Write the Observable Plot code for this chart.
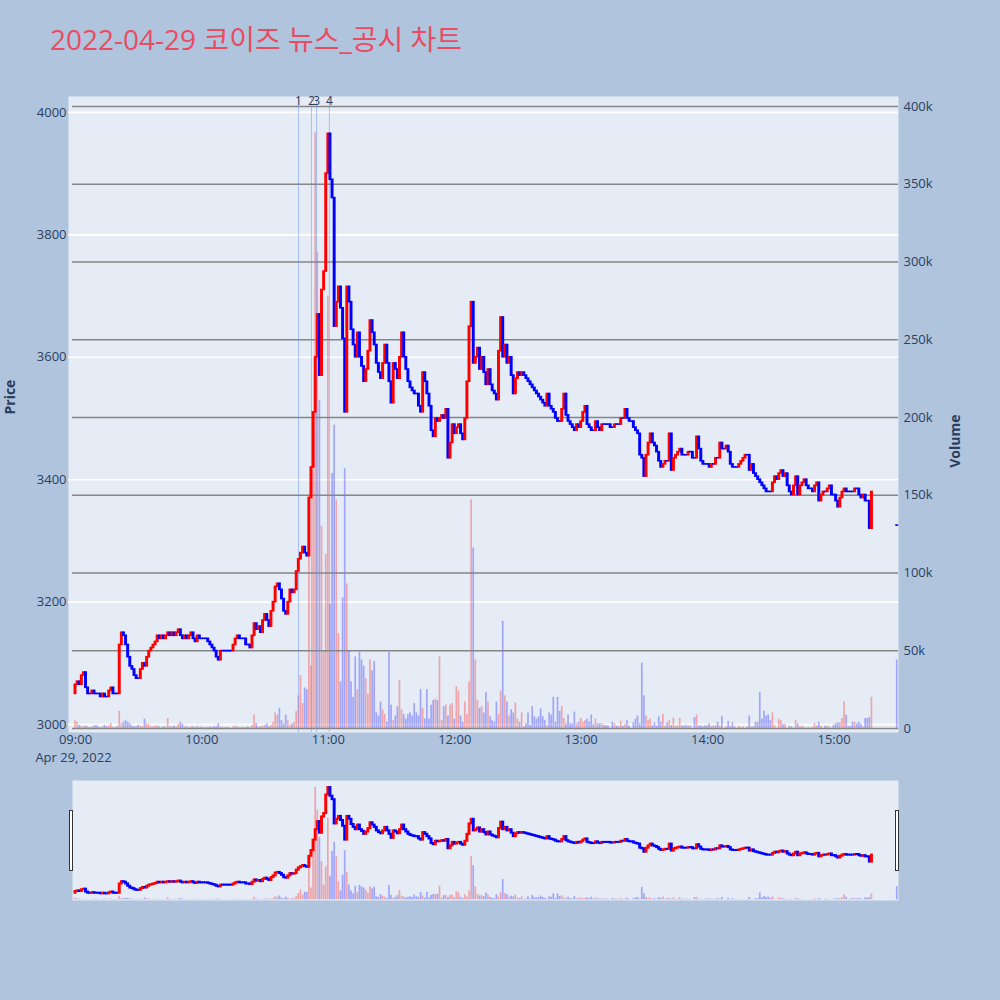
<!DOCTYPE html>
<html>
<head>
<meta charset="utf-8">
<script src="https://cdn.jsdelivr.net/npm/d3@7"></script>
<script src="https://cdn.jsdelivr.net/npm/@observablehq/plot@0.6"></script>
<style>
  html, body { margin: 0; padding: 0; background: #B0C4DE; }
  #root { position: relative; width: 1000px; height: 1000px; background: #B0C4DE; overflow: hidden; }
  #root svg { position: absolute; left: 0; top: 0; }
  #title { position: absolute; left: 50px; top: 25px; font-size: 28px; line-height: 28px; color: #E84C61;
           font-family: "Open Sans", "Noto Sans CJK KR", sans-serif; white-space: nowrap; }
</style>
</head>
<body>
<div id="root"><div id="title">2022-04-29 코이즈 뉴스_공시 차트</div></div>
<script>
// ---------------- data ----------------
const tradeDate = "2022-04-29";
const dateLabel = "Apr 29, 2022";
const firstOpen = 3050;
// one-minute closes from 09:00 to 15:18 (each row = 10 minutes)
const closes = [
  3065,3070,3065,3080,3085,3060,3050,3050,3055,3050, // 09:00
  3050,3050,3045,3050,3045,3045,3055,3060,3050,3050, // 09:10
  3050,3130,3150,3145,3130,3110,3095,3090,3080,3075, // 09:20
  3075,3090,3100,3095,3110,3120,3125,3130,3135,3145, // 09:30
  3140,3145,3140,3145,3150,3145,3150,3145,3150,3155, // 09:40
  3145,3140,3145,3140,3145,3150,3140,3135,3145,3140, // 09:50
  3140,3140,3140,3135,3130,3125,3120,3110,3105,3120, // 10:00
  3120,3120,3120,3120,3120,3130,3140,3145,3140,3140, // 10:10
  3140,3130,3130,3125,3145,3165,3155,3160,3150,3170, // 10:20
  3180,3170,3160,3185,3200,3225,3230,3220,3205,3185, // 10:30
  3180,3200,3220,3215,3220,3250,3270,3280,3290,3280, // 10:40
  3275,3370,3420,3510,3600,3670,3570,3710,3740,3900, // 10:50
  3965,3890,3860,3650,3690,3715,3680,3630,3510,3715, // 11:00
  3690,3645,3620,3600,3640,3600,3585,3560,3580,3610, // 11:10
  3660,3640,3620,3590,3575,3565,3590,3620,3590,3560, // 11:20
  3525,3590,3580,3565,3600,3640,3600,3580,3560,3550, // 11:30
  3545,3540,3540,3520,3510,3575,3560,3540,3520,3480, // 11:40
  3470,3500,3495,3500,3505,3500,3515,3435,3460,3490, // 11:50
  3475,3485,3490,3475,3465,3500,3560,3650,3690,3590, // 12:00
  3600,3615,3580,3600,3575,3555,3580,3555,3545,3540, // 12:10
  3530,3610,3665,3600,3620,3590,3600,3570,3540,3565, // 12:20
  3575,3570,3575,3570,3565,3560,3555,3550,3545,3540, // 12:30
  3535,3530,3525,3520,3540,3520,3515,3510,3500,3495, // 12:40
  3495,3515,3540,3505,3495,3490,3485,3480,3490,3485, // 12:50
  3495,3510,3520,3490,3485,3480,3480,3495,3485,3480, // 13:00
  3490,3490,3490,3490,3485,3485,3490,3490,3490,3500, // 13:10
  3500,3515,3500,3495,3495,3485,3480,3475,3440,3435, // 13:20
  3405,3440,3460,3475,3460,3455,3445,3430,3420,3425, // 13:30
  3430,3430,3475,3415,3435,3440,3445,3450,3440,3440, // 13:40
  3440,3445,3445,3435,3435,3470,3450,3430,3425,3425, // 13:50
  3425,3420,3425,3425,3435,3435,3460,3450,3450,3455, // 14:00
  3445,3425,3420,3420,3420,3425,3430,3435,3440,3440, // 14:10
  3415,3425,3410,3405,3400,3395,3390,3385,3380,3380, // 14:20
  3380,3395,3405,3400,3410,3415,3405,3410,3390,3380, // 14:30
  3375,3390,3405,3375,3390,3395,3400,3390,3385,3385, // 14:40
  3380,3390,3395,3365,3375,3380,3380,3385,3390,3375, // 14:50
  3375,3365,3355,3370,3380,3385,3380,3380,3380,3380, // 15:00
  3385,3385,3375,3370,3375,3365,3365,3320,3380       // 15:10
];
// one-minute volumes, thousands of shares
const volumesK = [
  5,4,2,1.5,1,1.5,1,0.5,1,1.5,
  2,1,0.5,1,2,1,1.5,3,0.5,0.5,
  1,11,3,4,5,4,3,1.5,1,1,
  2,1.5,1,6,3,2.5,1,1,1.5,1.5,
  1,0.5,1,1,6.4,1,1,1.5,1,2.5,
  4,2.5,1,1,0.5,1,1,0.5,1.5,0.5,
  1,0.5,0.5,0.5,1,0.5,1,1,3,1,
  0.5,0.5,0.5,0.5,0,1,1.5,1,0.5,0.5,
  0.5,0.5,1,0.5,2,8.6,3,1,1,1.5,
  2,3,1,2,4,10,8.6,13,5,3,
  8.6,5,2,3,4,11,21,34,16,26,
  25,150,40,200,383,306,211,130,50,112,
  278,80,164,195,147,61,30,84,167,93,
  50,30,20,46,25,49,44,40,32,22,
  44,37,43,10,8,17,12,9,4,49,
  15,5,8,14,31,12,9,6,9,10,
  8,16,10,8,25,13,6,25,6,15,
  18,19,18,46,5,14,15,8,15,16,
  6,27,24,8,4,17,9,30,147,116,
  44,18,13,14,10,23,17,7.5,5,4,
  17,9,24,69,21,17,8,12,10,16.5,
  6,4,10,1,3,10,2,14,7.5,6,
  7.5,12.6,7.5,5,2,10,8.6,20,4,20,
  11,14,6.4,3,8.6,3,3,10.5,3,4,
  6.4,4,5,6,4,8.6,2.6,6,3,3,
  3,2,1.7,1.7,0,4,3,1.5,1,4.7,
  1.5,2.6,5,1.5,0,3.6,6,8,3,42,
  21,8,5,6,1.7,3.6,1.5,7.5,4,9,
  1.5,3.6,5,2,6.6,1.7,2,6.4,1.7,1.5,
  2,1.7,1.5,0,7,8.6,1.5,1.7,1,1.7,
  1.7,3,1.5,1.5,2,4,1.5,7.5,0,1,
  4.5,1,3.6,1,0,1.5,0.5,1,0,1,
  8,1,1,4,4,23,6,11,8,8.6,
  5,10,2,0,6,5,2.6,2.6,0,1.5,
  1,0,5,3,1,1.5,0.5,0,0.5,0,
  0.5,3,1.7,4,1.5,0,1.5,1.5,1,0,
  2,3,3.6,3.6,6.4,17,8.6,1,1.5,4,
  4,3,4,2.6,1,6.4,6.4,7,20
];
const closingTime = "15:30";
const closingPrice = 3325;
const closingVolumeK = 44;
const newsTimes = ["10:45:50", "10:52:00", "10:54:25", "11:00:30"];
const newsLabels = ["1", "2", "3", "4"];
const priceTicks = [3000, 3200, 3400, 3600, 3800, 4000];
const volumeTicksK = [0, 50, 100, 150, 200, 250, 300, 350, 400];
const hourTicks = ["09:00", "10:00", "11:00", "12:00", "13:00", "14:00", "15:00"];

// ---------------- build ----------------
const FONT = "'Open Sans', 'Noto Sans CJK KR', sans-serif";
const TXT = "#2a3f5f";
const UP = "#FF0000", DOWN = "#0000FF";
const t = (hms) => new Date(`${tradeDate}T${hms.length === 5 ? hms + ":00" : hms}Z`);
const T0 = t("09:00");
const atMin = (m) => new Date(+T0 + m * 60000);
const MIN = 60000;

const bars = closes.map((c, i) => ({
  t: atMin(i), open: i ? closes[i - 1] : firstOpen, close: c, vol: volumesK[i]
}));
bars.push({t: t(closingTime), open: closingPrice, close: closingPrice, vol: closingVolumeK});
bars.forEach(d => d.color = d.close > d.open ? UP : DOWN);

const hourDates = hourTicks.map(t);
const newsDates = newsTimes.map(t);
const mainX = [atMin(-3.32), atMin(390.6)];
const subX = [atMin(-1.42), atMin(390.6)];
const priceDomain = [2987, 4026];
const volDomain = [-2.6, 406.4];
const svgStyle = `background: transparent; font-family: ${FONT}; color: ${TXT}; overflow: visible;`;
const candleW = 0.7 * MIN, volW = 0.4 * MIN;

const root = document.getElementById("root");

const base = Plot.plot({
  width: 1000, height: 780,
  marginLeft: 68, marginRight: 102, marginTop: 96, marginBottom: 48,
  style: svgStyle,
  x: {type: "utc", domain: mainX, axis: null},
  y: {domain: priceDomain, axis: null},
  marks: [
    Plot.frame({fill: "#E5ECF6", stroke: "none"}),
    Plot.ruleY(priceTicks, {stroke: "white", strokeWidth: 1.6}),
    Plot.axisY(priceTicks, {anchor: "left", tickSize: 0, tickPadding: 2, fontSize: 13, label: null, tickFormat: d => String(d)}),
    Plot.axisX(hourDates, {anchor: "bottom", tickSize: 0, tickPadding: 2, fontSize: 13, label: null, tickFormat: d3.utcFormat("%H:%M")}),
    Plot.text([dateLabel], {x: () => hourDates[0], frameAnchor: "bottom", dy: 29, dx: -2, fontSize: 13, fill: TXT}),
    Plot.text(["Price"], {frameAnchor: "left", dx: -58, rotate: -90, fontSize: 14, fontWeight: "bold", fill: TXT})
  ]
});

const volPlot = Plot.plot({
  width: 1000, height: 780,
  marginLeft: 72, marginRight: 102, marginTop: 96, marginBottom: 48,
  style: svgStyle,
  x: {type: "utc", domain: subX, axis: null},
  y: {domain: volDomain, axis: null},
  color: {type: "identity"},
  marks: [
    Plot.rect(bars, {x1: d => new Date(+d.t - volW), x2: d => new Date(+d.t + volW), y1: 0, y2: "vol", fill: d => d.color, fillOpacity: 0.3}),
    Plot.ruleY(volumeTicksK, {stroke: "#858585", strokeWidth: 1.4}),
    Plot.axisY(volumeTicksK, {anchor: "right", tickSize: 0, tickPadding: 5, fontSize: 13, label: null, tickFormat: d => d ? d + "k" : "0"}),
    Plot.text(["Volume"], {frameAnchor: "right", dx: 57, rotate: -90, fontSize: 14, fontWeight: "bold", fill: TXT})
  ]
});

const candlePlot = Plot.plot({
  width: 1000, height: 780,
  marginLeft: 68, marginRight: 102, marginTop: 96, marginBottom: 48,
  style: svgStyle,
  x: {type: "utc", domain: mainX, axis: null},
  y: {domain: priceDomain, axis: null},
  color: {type: "identity"},
  marks: [
    Plot.ruleX(newsDates, {stroke: "#7090f0", strokeOpacity: 0.5, strokeWidth: 1}),
    Plot.rect(bars, {x1: d => new Date(+d.t - candleW), x2: d => new Date(+d.t + candleW), y1: "open", y2: "close", fill: d => d.color, insetTop: -0.8, insetBottom: -0.8}),
    Plot.text(newsLabels, {x: (d, i) => newsDates[i], frameAnchor: "top", fontSize: 12, fill: TXT})
  ]
});

const sliderVol = Plot.plot({
  width: 1000, height: 1000,
  marginLeft: 72, marginRight: 102, marginTop: 780, marginBottom: 100,
  style: svgStyle,
  x: {type: "utc", domain: subX, axis: null},
  y: {domain: volDomain, axis: null},
  color: {type: "identity"},
  marks: [
    Plot.frame({fill: "#E5ECF6", stroke: "none"}),
    Plot.rect(bars, {x1: d => new Date(+d.t - volW), x2: d => new Date(+d.t + volW), y1: 0, y2: "vol", fill: d => d.color, fillOpacity: 0.3})
  ]
});

const sliderPrice = Plot.plot({
  width: 1000, height: 1000,
  marginLeft: 72, marginRight: 102, marginTop: 780, marginBottom: 100,
  style: svgStyle,
  x: {type: "utc", domain: subX, axis: null},
  y: {domain: priceDomain, axis: null},
  color: {type: "identity"},
  marks: [
    Plot.rect(bars, {x1: d => new Date(+d.t - candleW), x2: d => new Date(+d.t + candleW), y1: "open", y2: "close", fill: d => d.color, insetTop: -1, insetBottom: -1})
  ]
});

// range-slider grips (UI decoration)
const grip = d3.select(sliderPrice);
[69.5, 895.5].forEach(x => grip.append("rect")
  .attr("x", x).attr("y", 810.5).attr("width", 3).attr("height", 60)
  .attr("fill", "white").attr("stroke", "#333").attr("stroke-width", 1));

[base, volPlot, candlePlot, sliderVol, sliderPrice].forEach(s => root.appendChild(s));
</script>
</body>
</html>
